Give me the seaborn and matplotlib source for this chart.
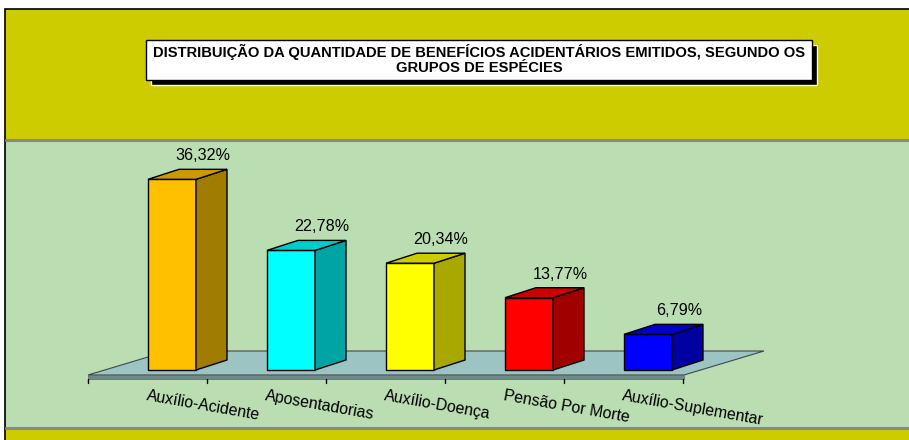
import matplotlib
matplotlib.use("Agg")
import matplotlib.pyplot as plt
from matplotlib.patches import Polygon, Rectangle
import pandas as pd
import seaborn as sns

# dados do gráfico
categorias = ["Auxílio-Acidente", "Aposentadorias", "Auxílio-Doença",
              "Pensão Por Morte", "Auxílio-Suplementar"]
percentuais = [36.32, 22.78, 20.34, 13.77, 6.79]
cores_frente = ["#FFC000", "#00FFFF", "#FFFF00", "#FF0000", "#0000FF"]
cores_lado = ["#A07C00", "#00A4A4", "#A8A800", "#A00000", "#0000A0"]
cores_topo = ["#CC9A00", "#00CCCC", "#CCCC00", "#CC0000", "#0000CC"]
titulo = ("DISTRIBUIÇÃO DA QUANTIDADE DE BENEFÍCIOS ACIDENTÁRIOS EMITIDOS, SEGUNDO OS\n"
          "GRUPOS DE ESPÉCIES")

W, H = 909, 440
PX_X = 119.0    # pixels por categoria
PX_Y = 5.25     # pixels por ponto percentual
X0, Y0 = 172.0, 370.0  # posição em pixels da categoria 0 / base das barras


def fy(py):
    # pixel vertical (do topo) -> fração da figura
    return 1 - py / H


df = pd.DataFrame({"categoria": categorias, "valor": percentuais})

sns.set_style("white")
plt.rcParams["font.family"] = ["Liberation Sans", "DejaVu Sans"]
plt.rcParams["text.color"] = "black"

fig = plt.figure(figsize=(W / 100, H / 100), dpi=100)
fig.patch.set_facecolor("white")
ax = fig.add_axes([0, 0, 1, 1])
ax.patch.set_visible(False)

# fundos
ax.add_patch(Rectangle((5 / W, -0.1), 1.1, fy(9) + 0.1, transform=ax.transAxes,
                       facecolor="#CCCC00", edgecolor="black", lw=1.2, zorder=-10))
ax.add_patch(Rectangle((5.6 / W, fy(429)), 1, fy(140) - fy(429), transform=ax.transAxes,
                       facecolor="#BBDDB2", edgecolor="none", zorder=-9))
for py in (140, 428):
    ax.plot([5.6 / W, 1], [fy(py), fy(py)], transform=ax.transAxes,
            color="#888888", lw=2.2, zorder=-8)

# título
ax.add_patch(Rectangle((151 / W, fy(85)), (812 - 146) / W, fy(40) - fy(80),
                       transform=ax.transAxes, facecolor="black", zorder=5))
ax.add_patch(Rectangle((146 / W, fy(80)), (812 - 146) / W, fy(40) - fy(80),
                       transform=ax.transAxes, facecolor="white", edgecolor="black",
                       lw=1, zorder=6))
ax.text(479 / W, fy(59.5), titulo, transform=ax.transAxes, ha="center", va="center",
        fontsize=10.6, fontweight="bold", linespacing=1.1, zorder=7)

# piso
ddx, ddy = 80 / PX_X, 24 / PX_Y
fl = (88 - X0) / PX_X
fr = (684 - X0) / PX_X
f_top = (Y0 - 375) / PX_Y
f_bot = (Y0 - 379) / PX_Y
ax.add_patch(Polygon([(fl, f_top), (fr, f_top), (fr + ddx, f_top + ddy),
                      (fl + ddx, f_top + ddy)], closed=True, facecolor="#9CC4C2",
                     edgecolor="#404848", lw=0.8, zorder=0.5))
ax.add_patch(Polygon([(fl, f_bot), (fr, f_bot), (fr, f_top), (fl, f_top)], closed=True,
                     facecolor="#6F8888", edgecolor="#556666", lw=0.5, zorder=0.6))

# barras (faces frontais)
sns.barplot(data=df, x="categoria", y="valor", hue="categoria", palette=cores_frente,
            legend=False, width=48 / PX_X, errorbar=None, edgecolor="black",
            linewidth=1, saturation=1, ax=ax, zorder=2)

bdx, bdy = 31 / PX_X, 10 / PX_Y
for i, cont in enumerate(ax.containers):
    for bar in cont:
        x, w, h = bar.get_x(), bar.get_width(), bar.get_height()
        ax.add_patch(Polygon([(x + w, 0), (x + w + bdx, bdy), (x + w + bdx, h + bdy),
                              (x + w, h)], closed=True, facecolor=cores_lado[i],
                             edgecolor="black", lw=1, zorder=2))
        ax.add_patch(Polygon([(x, h), (x + w, h), (x + w + bdx, h + bdy),
                              (x + bdx, h + bdy)], closed=True, facecolor=cores_topo[i],
                             edgecolor="black", lw=1, zorder=2))
        rot = f"{percentuais[i]:.2f}%".replace(".", ",")
        ax.text(x + w + 0.06, h + bdy + 9 / PX_Y, rot, ha="center", va="baseline",
                fontsize=11.6, color="black", zorder=4)
        # rótulo da categoria
        ax.text(x, (Y0 - 388) / PX_Y, categorias[i], ha="left", va="top",
                rotation=-10, rotation_mode="anchor", fontsize=11.4, color="black",
                zorder=4)

# marcas do eixo
for k in range(len(categorias) + 1):
    xt = fl + k
    ax.plot([xt, xt], [f_bot, (Y0 - 383) / PX_Y], color="black", lw=1, zorder=3)

ax.set_xlim(-X0 / PX_X, (W - X0) / PX_X)
ax.set_ylim((Y0 - H) / PX_Y, Y0 / PX_Y)
ax.axis("off")

fig.savefig("out.png", dpi=100)
